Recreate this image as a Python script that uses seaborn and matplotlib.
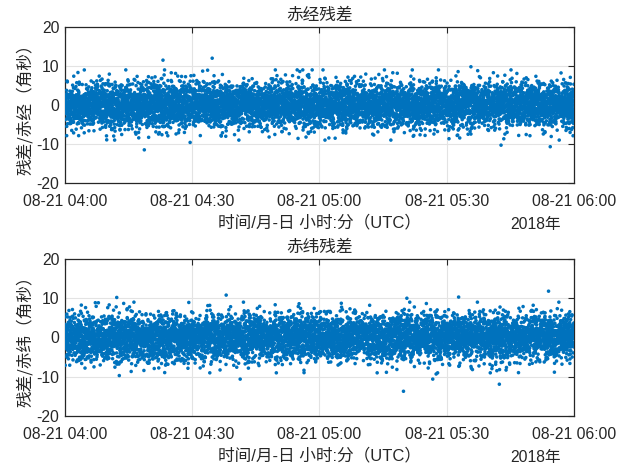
import numpy as np
import pandas as pd
import matplotlib
matplotlib.use("Agg")
import matplotlib.pyplot as plt
import seaborn as sns

# ---------------- data ----------------
start_time = "2018-08-21 04:00:00"
end_time = "2018-08-21 06:00:00"
n_samples = 7200           # approximate number of observations per panel (~1 per second)

# Clearly visible outliers (minutes after 04:00, arcsec)
ra_outlier_min = [23.1, 34.7, 18.7, 29.5, 95.7, 114.4, 102.8]
ra_outlier_val = [11.5, 12.0, -11.5, -9.6, 9.8, -10.7, -10.3]
dec_outlier_min = [38.0, 12.2, 41.3, 12.8, 114.0, 79.8, 102.4, 80.6, 92.8, 86.7, 87.5]
dec_outlier_val = [10.8, 10.2, -10.6, -9.7, 11.8, -13.7, -11.9, 10.0, 10.3, -10.6, -9.3]

# The dense cloud (thousands of overlapping dots) cannot be read point by point;
# it is a seeded stand-in matching the visible spread (~2.9 arcsec, |r| < 9).
ra_spread = 2.9
dec_spread = 2.9

tick_labels = ["08-21 04:00", "08-21 04:30", "08-21 05:00", "08-21 05:30", "08-21 06:00"]
titles = ["赤经残差", "赤纬残差"]
ylabels = ["残差/赤经（角秒）", "残差/赤纬（角秒）"]
xlabel = "时间/月-日 小时:分（UTC）"
year_label = "2018年"


def build(spread, om, ov, seed):
    rng = np.random.default_rng(seed)
    t0 = pd.Timestamp(start_time)
    mins = np.linspace(0, 120, n_samples)
    vals = np.clip(rng.normal(0, spread, n_samples), -9, 9)
    mins = np.concatenate([mins, np.array(om)])
    vals = np.concatenate([vals, np.array(ov)])
    return pd.DataFrame({"t": t0 + pd.to_timedelta(mins, unit="m"), "r": vals})


ra_df = build(ra_spread, ra_outlier_min, ra_outlier_val, 1)
dec_df = build(dec_spread, dec_outlier_min, dec_outlier_val, 2)

# ---------------- style ----------------
sns.set_theme(style="white")
fam = ["Liberation Sans", "Noto Sans CJK SC", "DejaVu Sans"]
cjk = ["Noto Sans CJK SC", "DejaVu Sans"]
plt.rcParams["font.family"] = fam
plt.rcParams["axes.unicode_minus"] = False

txt = "#262626"
fs = 11.3
fig = plt.figure(figsize=(6.28, 4.68), dpi=100)
fig.patch.set_facecolor("white")

positions = [[0.1035, 0.609, 0.8105, 0.3333], [0.1035, 0.1111, 0.8105, 0.3355]]
dfs = [ra_df, dec_df]

for i, df in enumerate(dfs):
    ax = fig.add_axes(positions[i])
    sns.scatterplot(data=df, x="t", y="r", ax=ax, s=6.5, color="#0072BD",
                    linewidth=0, edgecolor="none", legend=False, zorder=3)
    ax.set_xlim(pd.Timestamp(start_time), pd.Timestamp(end_time))
    ax.set_ylim(-20, 20)
    ax.set_yticks([-20, -10, 0, 10, 20])
    ticks = pd.date_range(start_time, end_time, freq="30min")
    ax.set_xticks(ticks)
    ax.set_xticklabels(tick_labels)
    ax.grid(True, color="#e3e3e3", linewidth=0.8, zorder=0)
    ax.set_axisbelow(True)
    ax.tick_params(direction="in", length=4, width=0.8, colors=txt,
                   labelsize=fs, top=True, right=True)
    ax.tick_params(axis="x", pad=8)
    ax.tick_params(axis="y", pad=4)
    for sp in ax.spines.values():
        sp.set_color(txt)
        sp.set_linewidth(0.9)
    ax.set_title(titles[i], fontsize=12, color=txt, pad=5, family=cjk)
    ax.set_ylabel(ylabels[i], fontsize=12, color=txt, labelpad=2, family=cjk)
    ax.set_xlabel(xlabel, fontsize=12, color=txt, labelpad=4, family=fam)
    ax.text(0.925, -0.265, year_label, transform=ax.transAxes, ha="center",
            va="center", fontsize=fs, color=txt, family=fam)

fig.savefig("out.png", dpi=100, facecolor="white")
